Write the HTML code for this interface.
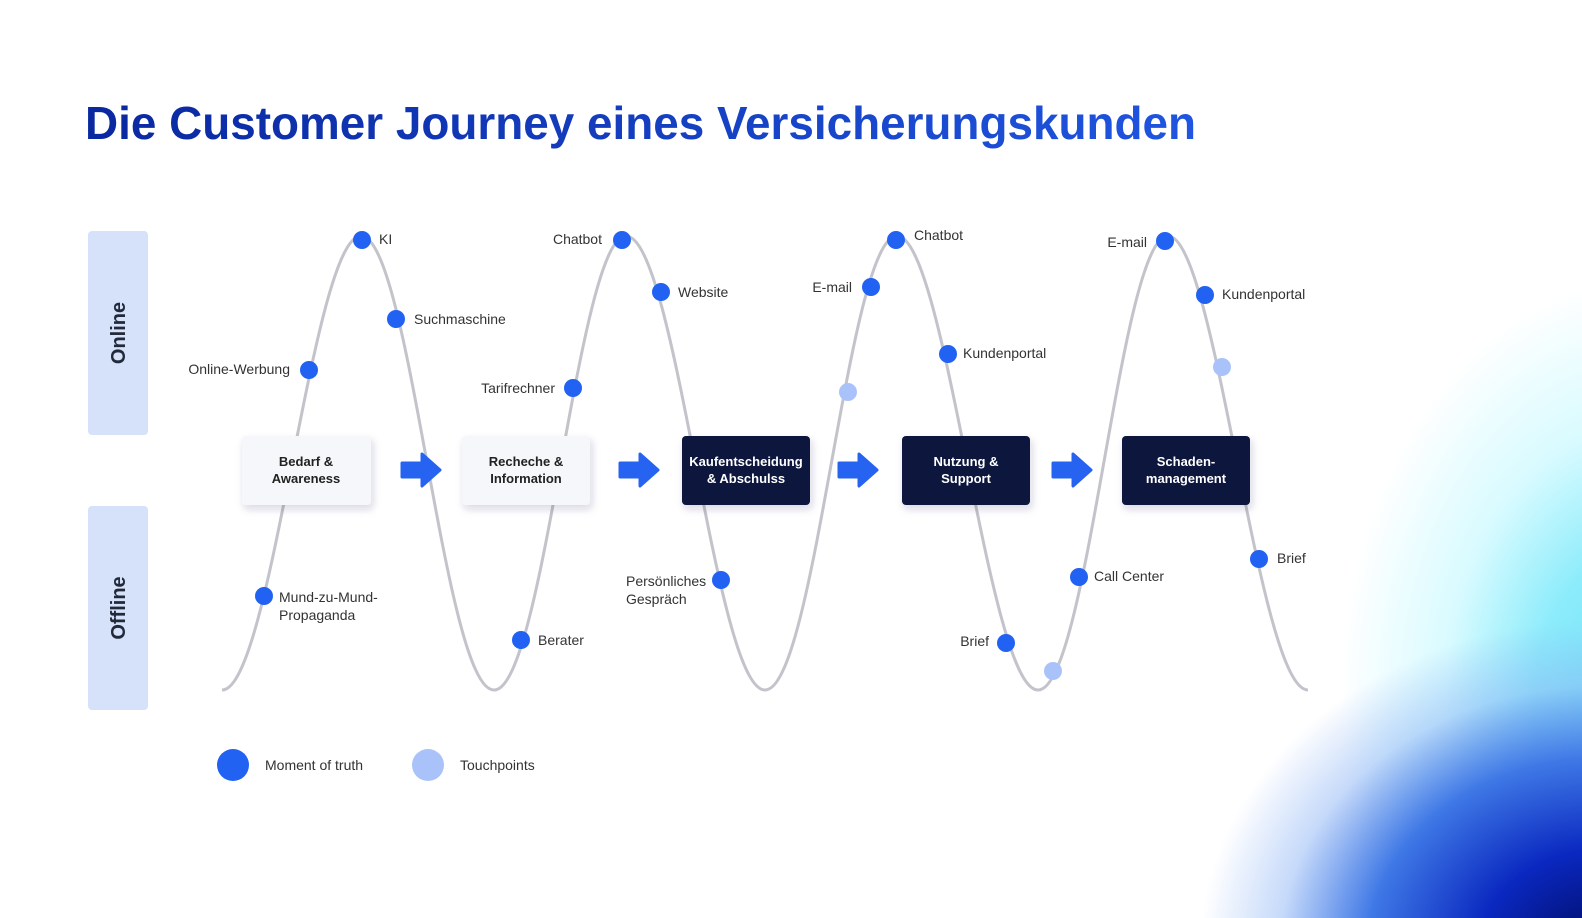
<!DOCTYPE html>
<html><head><meta charset="utf-8"><style>
html,body{margin:0;padding:0;background:#fff}
body{width:1582px;height:918px;position:relative;overflow:hidden;font-family:"Liberation Sans",sans-serif}
.g{position:absolute;inset:0;background:
radial-gradient(ellipse 400px 330px at 1600px 950px,#000a60 0%,#0a28c0 30%,#3f78e6 58%,rgba(140,180,245,0.5) 80%,rgba(255,255,255,0) 100%),
radial-gradient(ellipse 300px 420px at 1640px 700px,#6fe2f8 0%,#8cecfb 35%,rgba(190,248,255,0.6) 65%,rgba(255,255,255,0) 100%);}
</style></head><body>
<div class="g"></div>
<svg width="1582" height="918" style="position:absolute;left:0;top:0" font-family="Liberation Sans, sans-serif">
<defs>
<linearGradient id="tg" x1="0" x2="1"><stop offset="0" stop-color="#0a28a0"/><stop offset="1" stop-color="#1f55e0"/></linearGradient>
<filter id="sh" x="-20%" y="-20%" width="140%" height="150%"><feDropShadow dx="2" dy="4" stdDeviation="4" flood-color="#203060" flood-opacity="0.18"/></filter>
<g id="arr"><path d="M-18,-7 H2 V-16 L20,0 L2,16 V7 H-18 Z" fill="#2563f0" stroke="#2563f0" stroke-width="3" stroke-linejoin="round"/></g>
</defs>
<text x="85" y="139" font-size="46" font-weight="bold" fill="url(#tg)" textLength="1111" lengthAdjust="spacingAndGlyphs">Die Customer Journey eines Versicherungskunden</text>
<rect x="88" y="231" width="60" height="204" rx="4" fill="#d6e2fa"/>
<rect x="88" y="506" width="60" height="204" rx="4" fill="#d6e2fa"/>
<text transform="translate(125,333) rotate(-90)" text-anchor="middle" font-size="20" font-weight="bold" fill="#222a3a">Online</text>
<text transform="translate(125,608) rotate(-90)" text-anchor="middle" font-size="20" font-weight="bold" fill="#222a3a">Offline</text>
<path fill="none" stroke="#c3c3cb" stroke-width="3" d="M222,690 C272,690 312,236 361,236 C410,236 444,690 494,690 C544,690 578,236 626,236 C676,236 715,690 765,690 C815,690 848,236 897,236 C946,236 988,690 1038,690 C1088,690 1120,236 1168,236 C1216,236 1258,690 1308,690"/>
<g font-size="13" font-weight="bold" text-anchor="middle">
<rect x="242" y="436" width="129" height="69" rx="4" fill="#f6f7fa" filter="url(#sh)"/>
<text x="306" y="466" fill="#222">Bedarf &amp;</text><text x="306" y="483" fill="#222">Awareness</text>
<rect x="462" y="436" width="128" height="69" rx="4" fill="#f6f7fa" filter="url(#sh)"/>
<text x="526" y="466" fill="#222">Recheche &amp;</text><text x="526" y="483" fill="#222">Information</text>
<rect x="682" y="436" width="128" height="69" rx="4" fill="#07173d" filter="url(#sh)"/>
<text x="746" y="466" fill="#fff">Kaufentscheidung</text><text x="746" y="483" fill="#fff">&amp; Abschulss</text>
<rect x="902" y="436" width="128" height="69" rx="4" fill="#07173d" filter="url(#sh)"/>
<text x="966" y="466" fill="#fff">Nutzung &amp;</text><text x="966" y="483" fill="#fff">Support</text>
<rect x="1122" y="436" width="128" height="69" rx="4" fill="#07173d" filter="url(#sh)"/>
<text x="1186" y="466" fill="#fff">Schaden-</text><text x="1186" y="483" fill="#fff">management</text>
</g>
<use href="#arr" x="420" y="470"/><use href="#arr" x="638" y="470"/><use href="#arr" x="857" y="470"/><use href="#arr" x="1071" y="470"/>
<g fill="#2262f2">
<circle cx="362" cy="240" r="9"/><circle cx="396" cy="319" r="9"/><circle cx="309" cy="370" r="9"/><circle cx="264" cy="596" r="9"/>
<circle cx="622" cy="240" r="9"/><circle cx="661" cy="292" r="9"/><circle cx="573" cy="388" r="9"/><circle cx="521" cy="640" r="9"/>
<circle cx="721" cy="580" r="9"/><circle cx="896" cy="240" r="9"/><circle cx="871" cy="287" r="9"/><circle cx="948" cy="354" r="9"/>
<circle cx="1006" cy="643" r="9"/><circle cx="1165" cy="241" r="9"/><circle cx="1205" cy="295" r="9"/><circle cx="1079" cy="577" r="9"/>
<circle cx="1259" cy="559" r="9"/><circle cx="233" cy="765" r="16"/>
</g>
<g fill="#a9c3fa"><circle cx="848" cy="392" r="9"/><circle cx="1222" cy="367" r="9"/><circle cx="1053" cy="671" r="9"/><circle cx="428" cy="765" r="16"/></g>
<g font-size="14" fill="#333">
<text x="379" y="244">KI</text><text x="414" y="324">Suchmaschine</text>
<text x="290" y="374" text-anchor="end">Online-Werbung</text>
<text x="279" y="602">Mund-zu-Mund-</text><text x="279" y="620">Propaganda</text>
<text x="602" y="244" text-anchor="end">Chatbot</text><text x="678" y="297">Website</text>
<text x="555" y="393" text-anchor="end">Tarifrechner</text><text x="538" y="645">Berater</text>
<text x="626" y="586">Persönliches</text><text x="626" y="604">Gespräch</text>
<text x="914" y="240">Chatbot</text><text x="852" y="292" text-anchor="end">E-mail</text>
<text x="963" y="358">Kundenportal</text><text x="989" y="646" text-anchor="end">Brief</text>
<text x="1147" y="247" text-anchor="end">E-mail</text><text x="1222" y="299">Kundenportal</text>
<text x="1094" y="581">Call Center</text><text x="1277" y="563">Brief</text>
<text x="265" y="770">Moment of truth</text><text x="460" y="770">Touchpoints</text>
</g>
</svg>
</body></html>
